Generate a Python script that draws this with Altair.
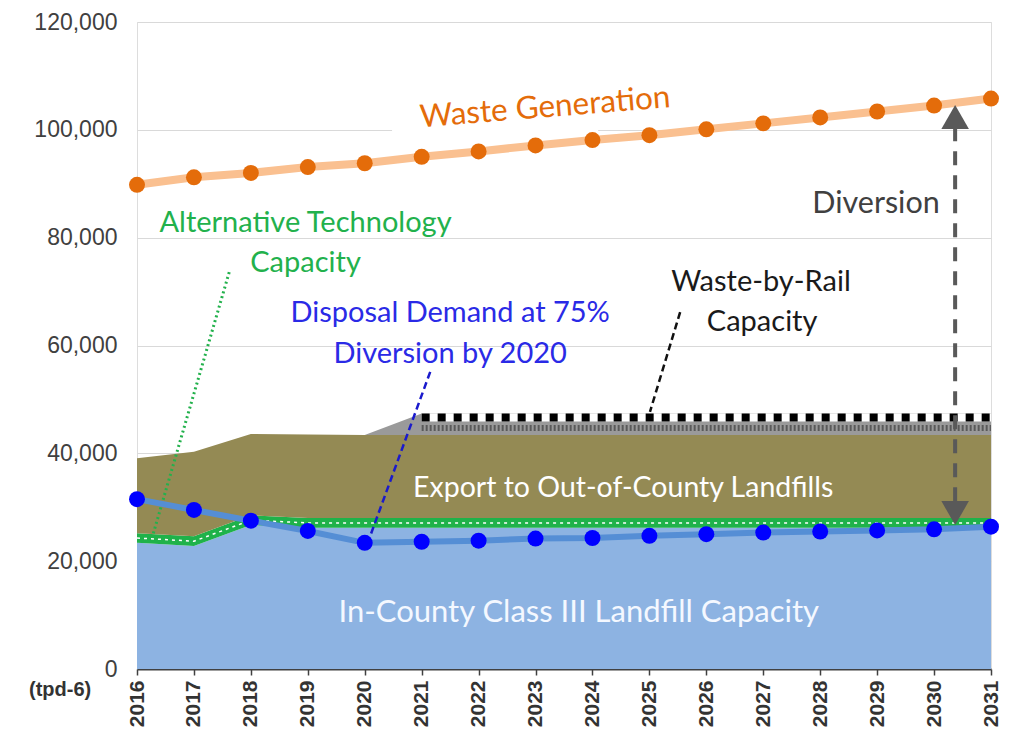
import altair as alt
import pandas as pd

# ---------------- data ----------------
years = list(range(2016, 2032))
waste_generation = [89800, 91200, 92000, 93100, 93800, 95000, 96000, 97100,
                    98100, 99000, 100100, 101200, 102300, 103400, 104500, 105800]
disposal_demand = [31500, 29500, 27500, 25600, 23400, 23600, 23800, 24200,
                   24300, 24700, 25000, 25300, 25500, 25700, 25900, 26400]
in_county_capacity = [23400, 22800, 26700, 26200, 26200, 26200, 26200, 26200,
                      26200, 26200, 26200, 26200, 26200, 26200, 26200, 26200]
alt_tech_capacity = [1800, 1800, 1800, 1800, 1800, 1800, 1800, 1800,
                     1800, 1800, 1800, 1800, 1800, 1800, 1800, 1800]
export_capacity = [13900, 15700, 15100, 15500, 15400, 15400, 15400, 15400,
                   15400, 15400, 15400, 15400, 15400, 15400, 15400, 15400]
rail_capacity = [0, 0, 0, 0, 0, 4000, 4000, 4000,
                 4000, 4000, 4000, 4000, 4000, 4000, 4000, 4000]
y_ticks = [0, 20000, 40000, 60000, 80000, 100000, 120000]

layer_names = ["In-County", "Alternative Technology", "Export", "Waste-by-Rail"]
layer_values = [in_county_capacity, alt_tech_capacity, export_capacity, rail_capacity]
layer_colors = ["#8db3e2", "#1fb24a", "#948a54", "#9a9a9a"]

# ---------------- tables built from the arrays ----------------
rows = []
base_level = [0] * len(years)
for name, vals in zip(layer_names, layer_values):
    for i, yr in enumerate(years):
        rows.append({"year": yr, "layer": name, "lo": base_level[i], "hi": base_level[i] + vals[i]})
    base_level = [b + v for b, v in zip(base_level, vals)]
areas = pd.DataFrame(rows)

series = pd.DataFrame({
    "year": years,
    "waste": waste_generation,
    "disposal": disposal_demand,
    "alt_mid": [a + b / 2 for a, b in zip(in_county_capacity, alt_tech_capacity)],
    "rail_top": [a + b + c + d for a, b, c, d in zip(in_county_capacity, alt_tech_capacity,
                                                     export_capacity, rail_capacity)],
    "rail": rail_capacity,
})
rail_line = series[series["rail"] > 0].copy()
rail_line["check"] = rail_line["rail_top"] - 750
rail_line["hatch"] = rail_line["rail_top"] - 2700

one = pd.DataFrame({"k": [0]})

AX_FONT = "Liberation Sans"
ANN_FONT = "Lato"

x_enc = alt.X("year:Q",
              scale=alt.Scale(domain=[2016, 2031], nice=False, zero=False),
              axis=alt.Axis(values=years, format="d", title=None, labelAngle=270,
                            labelAlign="right", labelBaseline="middle",
                            labelFont=AX_FONT, labelFontSize=21, labelFontWeight="bold",
                            labelColor="#333333", labelPadding=5, grid=False,
                            domainColor="#404040", domainWidth=2,
                            tickColor="#404040", tickSize=6, tickWidth=1.5))
y_scale = alt.Scale(domain=[0, 120000], nice=False)
y_axis = alt.Axis(values=y_ticks, format=",d", title=None, labelFont=AX_FONT,
                  labelFontSize=23, labelColor="#404040", labelPadding=20,
                  ticks=False, domain=False, grid=True, gridColor="#d9d9d9", gridWidth=1)

area_layer = alt.Chart(areas).mark_area(opacity=1, interpolate="linear").encode(
    x=x_enc,
    y=alt.Y("lo:Q", scale=y_scale, axis=y_axis),
    y2="hi:Q",
    color=alt.Color("layer:N", scale=alt.Scale(domain=layer_names, range=layer_colors), legend=None),
    detail="layer:N",
)

squiggle = alt.Chart(series).mark_line(color="white", strokeDash=[3, 4], strokeWidth=1.5).encode(
    x="year:Q", y="alt_mid:Q")

rail_white = alt.Chart(rail_line).mark_line(color="white", strokeWidth=8).encode(
    x="year:Q", y="check:Q")
rail_black = alt.Chart(rail_line).mark_line(color="black", strokeWidth=8, strokeDash=[8, 8]).encode(
    x="year:Q", y="check:Q")
rail_hatch = alt.Chart(rail_line).mark_line(color="#5a5a5a", strokeWidth=6, strokeDash=[2, 2]).encode(
    x="year:Q", y="hatch:Q")

grid_gap = alt.Chart(one).mark_rule(color="white", strokeWidth=3).encode(
    x=alt.datum(2020.48), x2=alt.datum(2024.1), y=alt.datum(100000))

disp_line = alt.Chart(series).mark_line(color="#558ed5", strokeWidth=6).encode(
    x="year:Q", y="disposal:Q")
disp_pts = alt.Chart(series).mark_circle(color="#0000ff", size=255, opacity=1).encode(
    x="year:Q", y="disposal:Q")

waste_line = alt.Chart(series).mark_line(color="#fac090", strokeWidth=8).encode(
    x="year:Q", y="waste:Q")
waste_pts = alt.Chart(series).mark_circle(color="#e46c0a", size=255, opacity=1).encode(
    x="year:Q", y="waste:Q")


def label(text, x, y, color, size, angle=0, align="center", weight="normal", font=ANN_FONT):
    return alt.Chart(one).mark_text(text=text, color=color, fontSize=size, angle=angle,
                                    align=align, baseline="middle", font=font,
                                    fontWeight=weight).encode(x=alt.datum(x), y=alt.datum(y))


def leader(x1, y1, x2, y2, color, dash, width):
    return alt.Chart(one).mark_rule(color=color, strokeDash=dash, strokeWidth=width).encode(
        x=alt.datum(x1), y=alt.datum(y1), x2=alt.datum(x2), y2=alt.datum(y2))


labels = [
    label("Waste Generation", 2023.17, 104000, "#e46c0a", 31.5, angle=355.4),
    label("Alternative Technology", 2018.96, 82700, "#22b14c", 29),
    label("Capacity", 2018.96, 75300, "#22b14c", 29),
    label("Disposal Demand at 75%", 2021.5, 66000, "#2a2ae6", 29),
    label("Diversion by 2020", 2021.5, 58400, "#2a2ae6", 29),
    label("Waste-by-Rail", 2026.96, 71800, "#1a1a1a", 29),
    label("Capacity", 2026.98, 64400, "#1a1a1a", 29),
    label("Diversion", 2028.98, 86200, "#404040", 30.5),
    label("Export to Out-of-County Landfills", 2024.54, 33600, "white", 28.5),
    label("In-County Class III Landfill Capacity", 2023.76, 10400, "#f4f8ff", 31),
    label("(tpd-6)", 2014.65, -3900, "#333333", 20, weight="bold", font=AX_FONT),
]

leaders = [
    leader(2017.62, 73600, 2016.28, 24900, "#22b14c", [2, 3], 3),
    leader(2021.15, 55100, 2020.09, 24500, "#1a1acc", [7, 4], 2.5),
    leader(2025.54, 66200, 2025.01, 47700, "#111111", [7, 4], 2.5),
]

arrow_x = 2030.37
arrow_rule = alt.Chart(one).mark_rule(color="#595959", strokeWidth=4, strokeDash=[14, 10]).encode(
    x=alt.datum(arrow_x), y=alt.datum(100500), y2=alt.datum(31000))
arrow_top = alt.Chart(one).mark_point(shape="triangle-up", filled=True, color="#595959",
                                      size=760, opacity=1, yOffset=12).encode(
    x=alt.datum(arrow_x), y=alt.datum(104600))
arrow_bot = alt.Chart(one).mark_point(shape="triangle-down", filled=True, color="#595959",
                                      size=760, opacity=1, yOffset=-12).encode(
    x=alt.datum(arrow_x), y=alt.datum(26700))

chart = alt.layer(
    area_layer, squiggle, rail_white, rail_black, rail_hatch, grid_gap,
    *leaders,
    disp_line, disp_pts, waste_line, waste_pts,
    arrow_rule, arrow_top, arrow_bot,
    *labels,
).properties(
    width=854, height=647,
    autosize=alt.AutoSizeParams(type="none"),
    padding={"left": 129, "top": 14, "right": 12, "bottom": 62},
).configure_view(stroke="#d9d9d9", strokeWidth=1).configure(background="white")

chart.save("out.html", embed_options={"renderer": "svg", "actions": False})
